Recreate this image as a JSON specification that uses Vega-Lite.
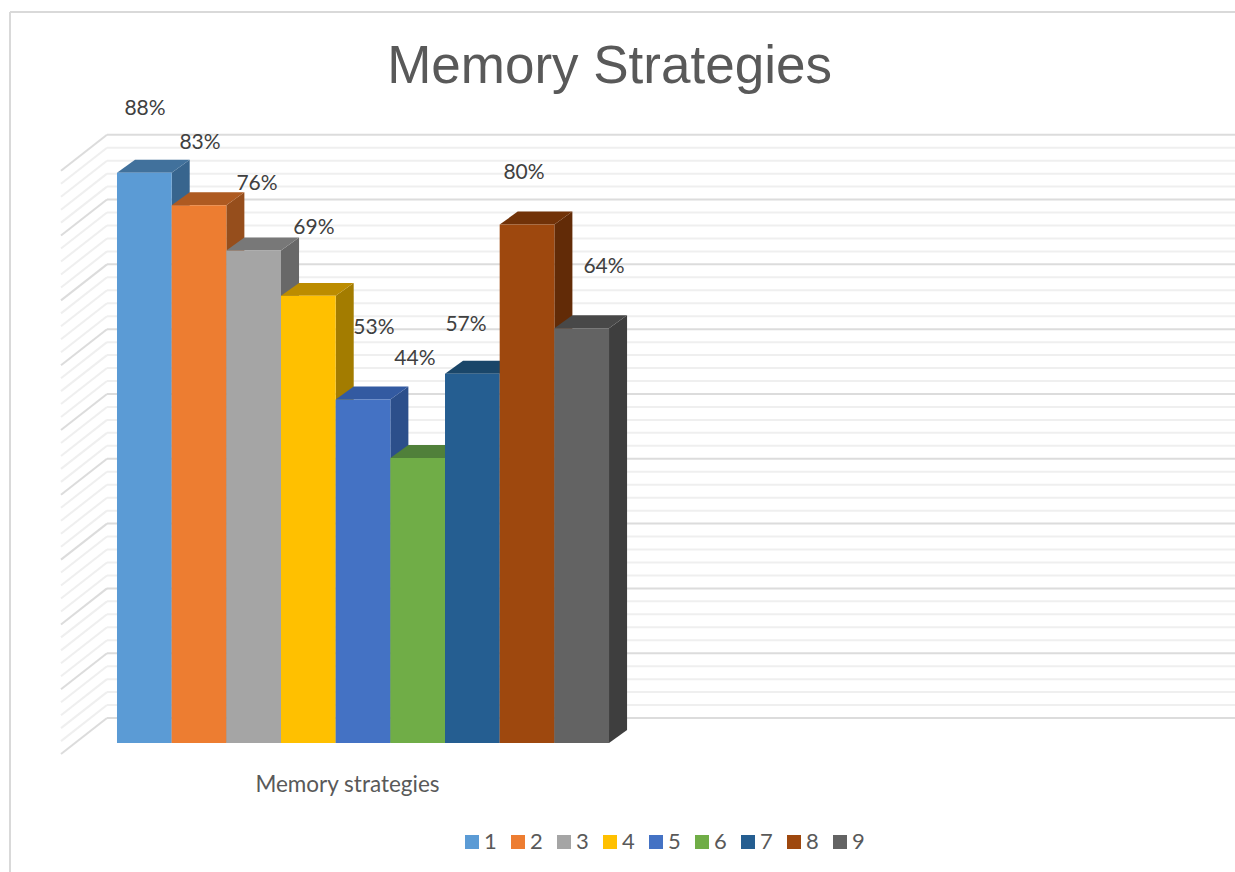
{"$schema":"https://vega.github.io/schema/vega-lite/v6.json","width":1225,"height":860,"autosize":"none","padding":{"left":10,"top":12,"right":0,"bottom":0},"background":"white","config":{"view":{"stroke":null},"font":"Lato"},
"title":{"text":"Memory Strategies","font":"Liberation Sans","fontSize":53,"fontWeight":"normal","color":"#595959","anchor":"middle","frame":"group","dx":-13,"dy":53,"offset":-72,"baseline":"alphabetic"},
"datasets":{
"frame":[{"edge":"frame"}],
"bars":[{"bar":"1","x0":0,"x1":1,"value":88},{"bar":"2","x0":1,"x1":2,"value":83},{"bar":"3","x0":2,"x1":3,"value":76},{"bar":"4","x0":3,"x1":4,"value":69},{"bar":"5","x0":4,"x1":5,"value":53},{"bar":"6","x0":5,"x1":6,"value":44},{"bar":"7","x0":6,"x1":7,"value":57},{"bar":"8","x0":7,"x1":8,"value":80},{"bar":"9","x0":8,"x1":9,"value":64}],
"labels":[{"label":"88%","x":0.512,"y":97.85},{"label":"83%","x":1.518,"y":92.6},{"label":"76%","x":2.561,"y":86.27},{"label":"69%","x":3.603,"y":79.48},{"label":"53%","x":4.7,"y":64.05},{"label":"44%","x":5.45,"y":59.27},{"label":"57%","x":6.384,"y":64.5},{"label":"80%","x":7.445,"y":87.97},{"label":"64%","x":8.908,"y":73.47}],
"sides":[
{"bar":"1","x":1,"y":88,"y2":0},{"bar":"1","x":1.33,"y":90,"y2":2},
{"bar":"2","x":2,"y":83,"y2":0},{"bar":"2","x":2.33,"y":85,"y2":2},
{"bar":"3","x":3,"y":76,"y2":0},{"bar":"3","x":3.33,"y":78,"y2":2},
{"bar":"4","x":4,"y":69,"y2":0},{"bar":"4","x":4.33,"y":71,"y2":2},
{"bar":"5","x":5,"y":53,"y2":0},{"bar":"5","x":5.33,"y":55,"y2":2},
{"bar":"6","x":6,"y":44,"y2":0},{"bar":"6","x":6.33,"y":46,"y2":2},
{"bar":"7","x":7,"y":57,"y2":0},{"bar":"7","x":7.33,"y":59,"y2":2},
{"bar":"8","x":8,"y":80,"y2":0},{"bar":"8","x":8.33,"y":82,"y2":2},
{"bar":"9","x":9,"y":64,"y2":0},{"bar":"9","x":9.33,"y":66,"y2":2}],
"tops":[
{"bar":"1","x":0,"y":88,"y2":88},{"bar":"1","x":0.33,"y":90,"y2":88},{"bar":"1","x":1,"y":90,"y2":88},{"bar":"1","x":1.33,"y":90,"y2":90},
{"bar":"2","x":1,"y":83,"y2":83},{"bar":"2","x":1.33,"y":85,"y2":83},{"bar":"2","x":2,"y":85,"y2":83},{"bar":"2","x":2.33,"y":85,"y2":85},
{"bar":"3","x":2,"y":76,"y2":76},{"bar":"3","x":2.33,"y":78,"y2":76},{"bar":"3","x":3,"y":78,"y2":76},{"bar":"3","x":3.33,"y":78,"y2":78},
{"bar":"4","x":3,"y":69,"y2":69},{"bar":"4","x":3.33,"y":71,"y2":69},{"bar":"4","x":4,"y":71,"y2":69},{"bar":"4","x":4.33,"y":71,"y2":71},
{"bar":"5","x":4,"y":53,"y2":53},{"bar":"5","x":4.33,"y":55,"y2":53},{"bar":"5","x":5,"y":55,"y2":53},{"bar":"5","x":5.33,"y":55,"y2":55},
{"bar":"6","x":5,"y":44,"y2":44},{"bar":"6","x":5.33,"y":46,"y2":44},{"bar":"6","x":6,"y":46,"y2":44},{"bar":"6","x":6.33,"y":46,"y2":46},
{"bar":"7","x":6,"y":57,"y2":57},{"bar":"7","x":6.33,"y":59,"y2":57},{"bar":"7","x":7,"y":59,"y2":57},{"bar":"7","x":7.33,"y":59,"y2":59},
{"bar":"8","x":7,"y":80,"y2":80},{"bar":"8","x":7.33,"y":82,"y2":80},{"bar":"8","x":8,"y":82,"y2":80},{"bar":"8","x":8.33,"y":82,"y2":82},
{"bar":"9","x":8,"y":64,"y2":64},{"bar":"9","x":8.33,"y":66,"y2":64},{"bar":"9","x":9,"y":66,"y2":64},{"bar":"9","x":9.33,"y":66,"y2":66}],
"grid":[
{"level":"major","yb":3.86,"yf":-1.7},{"level":"minor","yb":5.86,"yf":0.3},{"level":"minor","yb":7.86,"yf":2.3},{"level":"minor","yb":9.86,"yf":4.3},{"level":"minor","yb":11.86,"yf":6.3},
{"level":"major","yb":13.86,"yf":8.3},{"level":"minor","yb":15.86,"yf":10.3},{"level":"minor","yb":17.86,"yf":12.3},{"level":"minor","yb":19.86,"yf":14.3},{"level":"minor","yb":21.86,"yf":16.3},
{"level":"major","yb":23.86,"yf":18.3},{"level":"minor","yb":25.86,"yf":20.3},{"level":"minor","yb":27.86,"yf":22.3},{"level":"minor","yb":29.86,"yf":24.3},{"level":"minor","yb":31.86,"yf":26.3},
{"level":"major","yb":33.86,"yf":28.3},{"level":"minor","yb":35.86,"yf":30.3},{"level":"minor","yb":37.86,"yf":32.3},{"level":"minor","yb":39.86,"yf":34.3},{"level":"minor","yb":41.86,"yf":36.3},
{"level":"major","yb":43.86,"yf":38.3},{"level":"minor","yb":45.86,"yf":40.3},{"level":"minor","yb":47.86,"yf":42.3},{"level":"minor","yb":49.86,"yf":44.3},{"level":"minor","yb":51.86,"yf":46.3},
{"level":"major","yb":53.86,"yf":48.3},{"level":"minor","yb":55.86,"yf":50.3},{"level":"minor","yb":57.86,"yf":52.3},{"level":"minor","yb":59.86,"yf":54.3},{"level":"minor","yb":61.86,"yf":56.3},
{"level":"major","yb":63.86,"yf":58.3},{"level":"minor","yb":65.86,"yf":60.3},{"level":"minor","yb":67.86,"yf":62.3},{"level":"minor","yb":69.86,"yf":64.3},{"level":"minor","yb":71.86,"yf":66.3},
{"level":"major","yb":73.86,"yf":68.3},{"level":"minor","yb":75.86,"yf":70.3},{"level":"minor","yb":77.86,"yf":72.3},{"level":"minor","yb":79.86,"yf":74.3},{"level":"minor","yb":81.86,"yf":76.3},
{"level":"major","yb":83.86,"yf":78.3},{"level":"minor","yb":85.86,"yf":80.3},{"level":"minor","yb":87.86,"yf":82.3},{"level":"minor","yb":89.86,"yf":84.3},{"level":"minor","yb":91.86,"yf":86.3},
{"level":"major","yb":93.86,"yf":88.3}]},
"layer":[
{"data":{"name":"frame"},"mark":{"type":"rule","stroke":"#d9d9d9","strokeWidth":2},"encoding":{"x":{"datum":-1.957,"type":"quantitative","scale":{"domain":[-1.957,20.45],"nice":false,"zero":false},"axis":{"title":"Memory strategies","domain":false,"ticks":false,"labels":false,"grid":false,"titleFont":"Lato","titleFontSize":22.5,"titleFontWeight":"normal","titleColor":"#595959","titleX":337,"titleY":-88,"titleAnchor":"middle","titleBaseline":"middle"}},"y":{"datum":112.8,"type":"quantitative","scale":{"domain":[-19.9,112.8],"nice":false,"zero":false},"axis":null},"y2":{"datum":-19.9}}},
{"data":{"name":"frame"},"mark":{"type":"rule","stroke":"#d9d9d9","strokeWidth":2},"encoding":{"x":{"datum":-1.957,"type":"quantitative"},"x2":{"datum":20.45},"y":{"datum":112.8,"type":"quantitative"}}},
{"data":{"name":"grid"},"transform":[{"filter":"datum.level == 'minor'"}],"mark":{"type":"rule","stroke":"#efefef","strokeWidth":2},"encoding":{"x":{"datum":-1.024,"type":"quantitative"},"x2":{"datum":-0.183},"y":{"field":"yf","type":"quantitative"},"y2":{"field":"yb"}}},
{"data":{"name":"grid"},"transform":[{"filter":"datum.level == 'minor'"}],"mark":{"type":"rule","stroke":"#efefef","strokeWidth":2},"encoding":{"x":{"datum":-0.183,"type":"quantitative"},"x2":{"datum":20.45},"y":{"field":"yb","type":"quantitative"}}},
{"data":{"name":"grid"},"transform":[{"filter":"datum.level == 'major'"}],"mark":{"type":"rule","stroke":"#dcdcdc","strokeWidth":2},"encoding":{"x":{"datum":-1.024,"type":"quantitative"},"x2":{"datum":-0.183},"y":{"field":"yf","type":"quantitative"},"y2":{"field":"yb"}}},
{"data":{"name":"grid"},"transform":[{"filter":"datum.level == 'major'"}],"mark":{"type":"rule","stroke":"#dcdcdc","strokeWidth":2},"encoding":{"x":{"datum":-0.183,"type":"quantitative"},"x2":{"datum":20.45},"y":{"field":"yb","type":"quantitative"}}},
{"data":{"name":"sides"},"mark":{"type":"area","orient":"vertical","opacity":1},"encoding":{"x":{"field":"x","type":"quantitative"},"y":{"field":"y","type":"quantitative"},"y2":{"field":"y2"},"color":{"field":"bar","type":"nominal","legend":null,"scale":{"domain":["1","2","3","4","5","6","7","8","9"],"range":["#38658e","#964e1c","#686868","#a37c00","#2c4f8b","#47702d","#173e60","#622b07","#3e3e3e"]}}}},
{"data":{"name":"tops"},"mark":{"type":"area","orient":"vertical","opacity":1},"encoding":{"x":{"field":"x","type":"quantitative"},"y":{"field":"y","type":"quantitative"},"y2":{"field":"y2"},"color":{"field":"bar","type":"nominal","legend":null,"scale":{"domain":["1","2","3","4","5","6","7","8","9"],"range":["#41719c","#ae5a21","#787878","#bc8c00","#335aa1","#50803a","#1a4669","#713208","#484848"]}}}},
{"data":{"name":"bars"},"mark":{"type":"bar","opacity":1},"encoding":{"x":{"field":"x0","type":"quantitative"},"x2":{"field":"x1"},"y":{"field":"value","type":"quantitative"},"y2":{"datum":0},"color":{"field":"bar","type":"nominal","scale":{"domain":["1","2","3","4","5","6","7","8","9"],"range":["#5B9BD5","#ED7D31","#A5A5A5","#FFC000","#4472C4","#70AD47","#255E91","#9E480E","#636363"]},"legend":{"title":null,"orient":"none","legendX":451,"legendY":819,"direction":"horizontal","columns":9,"symbolType":"square","symbolSize":196,"symbolStrokeWidth":0,"symbolOpacity":1,"labelFont":"Lato","labelFontSize":22,"labelColor":"#595959","columnPadding":10,"labelOffset":1}}}},
{"data":{"name":"labels"},"mark":{"type":"text","font":"Lato","fontSize":21,"color":"#404040","align":"center","baseline":"middle"},"encoding":{"x":{"field":"x","type":"quantitative"},"y":{"field":"y","type":"quantitative"},"text":{"field":"label","type":"nominal"}}}
],
"resolve":{"scale":{"color":"independent"}}}
